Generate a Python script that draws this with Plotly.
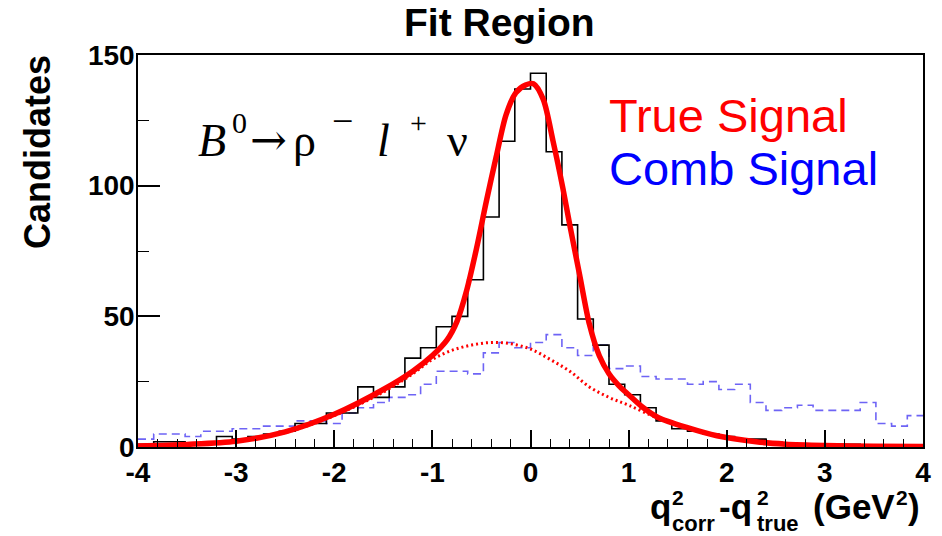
import plotly.graph_objects as go

# ---------------- data ----------------
X_MIN, X_MAX, N_BINS = -4.0, 4.0, 50

# True signal histogram (black), counts per bin
true_counts = [1, 2, 2, 1, 2, 4, 3, 4, 5, 6,
               9, 9, 13, 13, 23, 19, 23, 34, 38, 46,
               50, 64, 88, 117, 137, 143, 113, 85, 49, 39,
               24, 20, 15, 10, 7, 6, 5, 4, 3, 3,
               2, 1, 1, 1, 1, 1, 0, 0, 0, 0]

# Combinatoric signal histogram (blue dashed), counts per bin
comb_counts = [3, 5, 5, 4, 6, 6, 7, 7, 8, 8,
               10, 10, 9, 13, 15, 17, 19, 20, 24, 29,
               29, 28, 36, 40, 38, 40, 43, 38, 35, 39,
               30, 31, 27, 26, 26, 24, 25, 22, 24, 17,
               14, 15, 16, 14, 14, 14, 17, 9, 8, 12]

# Total fit curve (red solid)
fit_x = [-4.0, -3.5, -3.0, -2.5, -2.0, -1.5, -1.2, -1.0, -0.85, -0.75,
         -0.65, -0.55, -0.45, -0.35, -0.25, -0.15, -0.05, 0.03, 0.13, 0.23,
         0.33, 0.4, 0.5, 0.6, 0.7, 0.8, 0.9, 1.0, 1.15, 1.3,
         1.6, 1.9, 2.3, 2.6, 3.0, 3.5, 4.0]
fit_y = [0.4, 1.0, 2.2, 5.8, 12.5, 22, 29, 35, 41, 48,
         60, 76, 94, 111, 127, 135.5, 138.5, 139, 133, 117,
         99, 85, 66, 47, 35, 28, 23.5, 20, 15, 11.3,
         7.4, 4.3, 2.0, 1.1, 0.6, 0.3, 0.2]

# Wide component of the fit (red dotted)
wide_x = [-4.0, -3.5, -3.0, -2.5, -2.0, -1.5, -1.2, -1.0, -0.8, -0.6,
          -0.4, -0.2, 0.0, 0.2, 0.4, 0.6, 0.8, 1.0, 1.3, 1.6,
          1.9, 2.3, 2.6, 3.0, 3.5, 4.0]
wide_y = [0.4, 1.0, 2.2, 5.5, 12, 21, 28, 33.5, 37, 39,
          40, 39.5, 37.5, 33.5, 29, 23, 19, 16, 11, 7.2,
          4.2, 2.0, 1.1, 0.6, 0.3, 0.2]

x_ticks = [-4, -3, -2, -1, 0, 1, 2, 3, 4]
y_ticks = [0, 50, 100, 150]

# ---------------- figure ----------------
bw = (X_MAX - X_MIN) / N_BINS
edges = [X_MIN + i * bw for i in range(N_BINS + 1)]

fig = go.Figure()

fig.add_trace(go.Scatter(
    x=edges, y=comb_counts + [comb_counts[-1]], mode="lines",
    line=dict(shape="hv", color="rgb(110,100,245)", width=1.6, dash="8px,5px"),
    hoverinfo="skip"))

fig.add_trace(go.Scatter(
    x=edges, y=true_counts + [true_counts[-1]], mode="lines",
    line=dict(shape="hv", color="black", width=1.6),
    hoverinfo="skip"))

fig.add_trace(go.Scatter(
    x=wide_x, y=wide_y, mode="lines",
    line=dict(shape="spline", color="#ff0000", width=3, dash="2px,3px"),
    hoverinfo="skip"))

fig.add_trace(go.Scatter(
    x=fit_x, y=fit_y, mode="lines",
    line=dict(shape="spline", smoothing=0.8, color="#ff0000", width=5.5),
    hoverinfo="skip"))

L, R, T, B = 138, 19, 55, 89
W, H = 942, 536
PW, PH = W - L - R, H - T - B


def px(xp):
    return (xp - L) / PW


def py(yp):
    return (H - B - yp) / PH


tickfont = dict(family="Liberation Sans", size=28, color="black", weight="bold")

fig.update_layout(
    width=W, height=H,
    margin=dict(l=L, r=R, t=T, b=B),
    paper_bgcolor="white", plot_bgcolor="white",
    showlegend=False,
    xaxis=dict(range=[X_MIN, X_MAX], tickvals=x_ticks, ticktext=[str(v) for v in x_ticks],
               ticks="inside", ticklen=17, tickwidth=1.5, tickcolor="black",
               minor=dict(dtick=0.2, tick0=0, ticks="inside", ticklen=8, tickwidth=1.2, tickcolor="black", showgrid=False),
               showline=True, linecolor="black", linewidth=1.6, mirror=True,
               showgrid=False, zeroline=False, tickfont=tickfont, ticklabelstandoff=0),
    yaxis=dict(range=[0, 150], tickvals=y_ticks, ticktext=[str(v) for v in y_ticks],
               ticks="inside", ticklen=22, tickwidth=1.5, tickcolor="black",
               minor=dict(dtick=25, tick0=0, ticks="inside", ticklen=11, tickwidth=1.2, tickcolor="black", showgrid=False),
               showline=True, linecolor="black", linewidth=1.6, mirror=True,
               showgrid=False, zeroline=False, tickfont=tickfont, ticklabelstandoff=-4),
)

ann = []


def add_text(t, xx, yy, font, xanchor="left", yanchor="bottom", angle=0):
    ann.append(dict(text=t, x=px(xx), y=py(yy), xref="paper", yref="paper",
                    xanchor=xanchor, yanchor=yanchor, textangle=angle,
                    showarrow=False, font=font, borderpad=0))


# title
add_text("<b>Fit Region</b>", 499, 45, dict(family="Liberation Sans", size=39, color="black"),
         xanchor="center")
# y title
add_text("<b>Candidates</b>", 37, 152, dict(family="Liberation Sans", size=36, color="black"),
         xanchor="center", yanchor="middle", angle=-90)

# decay formula  B0 -> rho- l+ nu
serif_big = dict(family="Liberation Serif", size=46, color="black")
serif_small = dict(family="Liberation Serif", size=30, color="black")
add_text("<i>B</i>", 197, 167, serif_big)
add_text("0", 231, 140, serif_small)
add_text("\u2192", 249, 139, dict(family="DejaVu Serif", size=44, color="black"), yanchor="middle")
add_text("\u03c1", 292, 167, serif_big)
add_text("\u2212", 331, 143, dict(family="Liberation Serif", size=38, color="black"))
add_text("<i>l</i>", 376, 167, serif_big)
add_text("+", 409, 140, serif_small)
add_text("\u03bd", 446, 167, serif_big)

# legend texts
add_text("True Signal", 608, 143, dict(family="Liberation Sans", size=47, color="#ff0000"))
add_text("Comb Signal", 608, 196, dict(family="Liberation Sans", size=47, color="#0000ff"))

# x title pieces: q^2_corr - q^2_true (GeV^2)
big = dict(family="Liberation Sans", size=35, color="black", weight="bold")
small = dict(family="Liberation Sans", size=21, color="black", weight="bold")
sub = dict(family="Liberation Sans", size=22, color="black", weight="bold")
pieces = [
    ("q", 649, 506, big),
    ("2", 671, 497, small),
    ("corr", 671, 523, sub),
    ("-q", 718, 506, big),
    ("2", 756, 497, small),
    ("true", 756, 523, sub),
    ("(GeV", 812, 506, big),
    ("2", 895, 497, small),
    (")", 907, 506, big),
]
for t, xx, yy, f in pieces:
    add_text(t, xx, yy, f, yanchor="middle")

fig.update_layout(annotations=ann)

fig.write_html("out.html")
